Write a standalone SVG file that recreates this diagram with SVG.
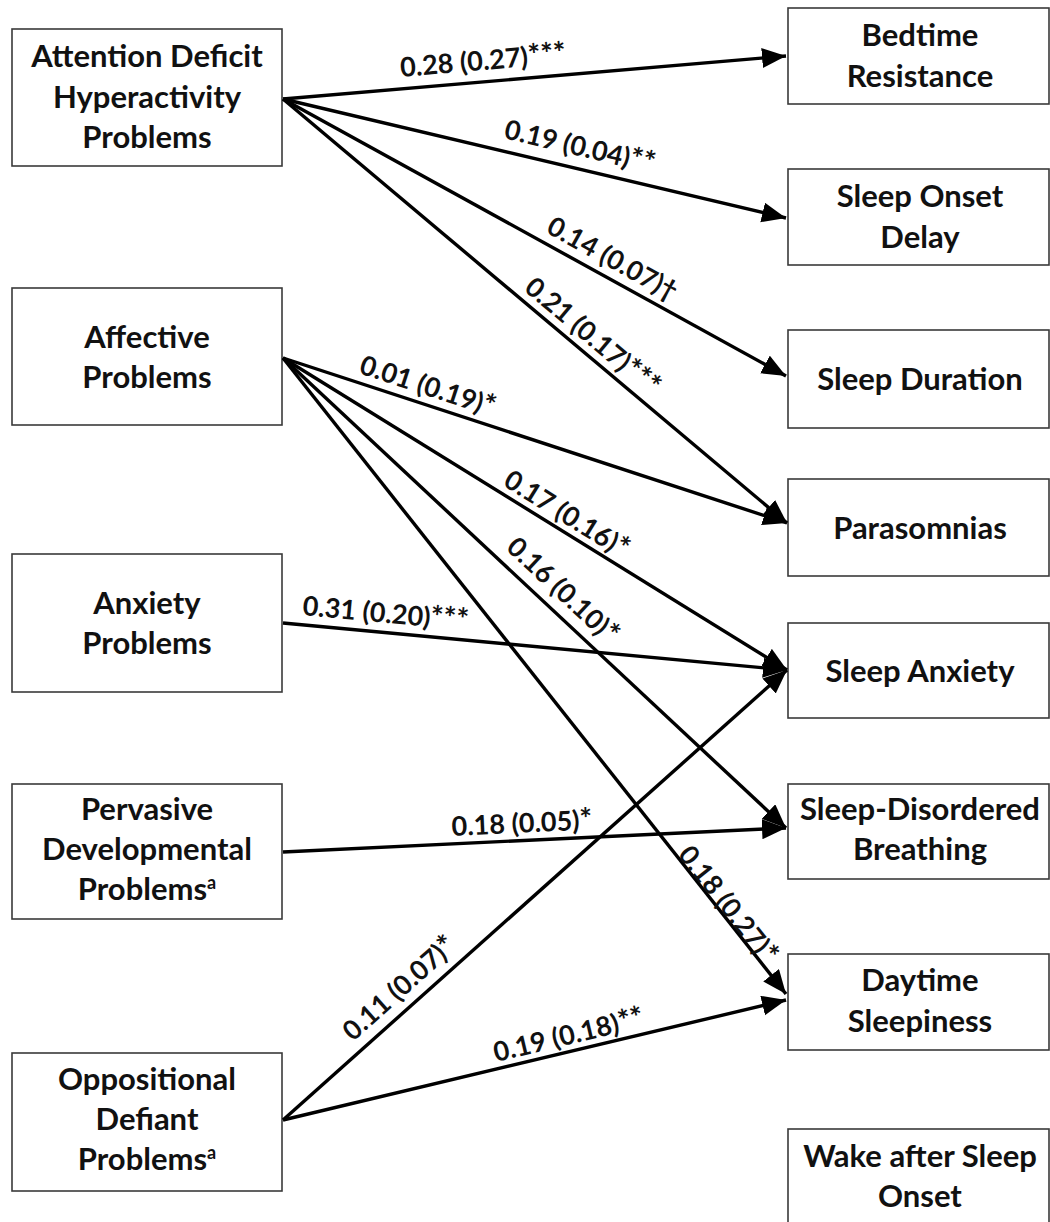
<svg xmlns="http://www.w3.org/2000/svg" width="1050" height="1222" viewBox="0 0 1050 1222">
<style>
.box{fill:#fff;stroke:#3a3a3a;stroke-width:1.6}
.nt{font-family:Lato,"Liberation Sans",sans-serif;font-weight:bold;font-size:31px;fill:#111;text-anchor:middle}
.sup{font-size:18px}
.edge{stroke:#000;stroke-width:3.4;fill:none}
.lbl{font-family:Lato,"Liberation Sans",sans-serif;font-weight:bold;font-size:27px;fill:#111}
.st{font-size:30px}
</style>
<defs>
<marker id="ah" markerUnits="userSpaceOnUse" markerWidth="26" markerHeight="22" refX="24" refY="10" orient="auto">
<path d="M0,0 L24,10 L0,20 Z" fill="#000"/>
</marker>
</defs>
<rect width="1050" height="1222" fill="#fff"/>

<g id="adhd"><rect class="box" x="12" y="29" width="270" height="137"/>
<text class="nt"><tspan x="147" y="67">Attention Deficit</tspan><tspan x="147" y="108">Hyperactivity</tspan><tspan x="147" y="148">Problems</tspan></text></g>
<g id="affective"><rect class="box" x="12" y="288" width="270" height="137"/>
<text class="nt"><tspan x="147" y="348">Affective</tspan><tspan x="147" y="388">Problems</tspan></text></g>
<g id="anxiety"><rect class="box" x="12" y="554" width="270" height="138"/>
<text class="nt"><tspan x="147" y="614">Anxiety</tspan><tspan x="147" y="654">Problems</tspan></text></g>
<g id="pervasive"><rect class="box" x="12" y="784" width="270" height="135"/>
<text class="nt"><tspan x="147" y="820">Pervasive</tspan><tspan x="147" y="860">Developmental</tspan><tspan x="147" y="900">Problems<tspan class="sup" dy="-11">a</tspan></tspan></text></g>
<g id="odd"><rect class="box" x="12" y="1053" width="270" height="138"/>
<text class="nt"><tspan x="147" y="1090">Oppositional</tspan><tspan x="147" y="1130">Defiant</tspan><tspan x="147" y="1170">Problems<tspan class="sup" dy="-11">a</tspan></tspan></text></g>

<g id="bedtime"><rect class="box" x="788" y="8" width="261" height="96"/>
<text class="nt"><tspan x="920" y="46">Bedtime</tspan><tspan x="920" y="87">Resistance</tspan></text></g>
<g id="onset"><rect class="box" x="788" y="169" width="261" height="96"/>
<text class="nt"><tspan x="920" y="207">Sleep Onset</tspan><tspan x="920" y="248">Delay</tspan></text></g>
<g id="duration"><rect class="box" x="788" y="330" width="261" height="98"/>
<text class="nt" x="920" y="390">Sleep Duration</text></g>
<g id="parasomnias"><rect class="box" x="788" y="479" width="261" height="97"/>
<text class="nt" x="920" y="539">Parasomnias</text></g>
<g id="sleepanxiety"><rect class="box" x="788" y="623" width="261" height="95"/>
<text class="nt" x="920" y="682">Sleep Anxiety</text></g>
<g id="sdb"><rect class="box" x="788" y="784" width="261" height="95"/>
<text class="nt"><tspan x="920" y="820">Sleep-Disordered</tspan><tspan x="920" y="860">Breathing</tspan></text></g>
<g id="daytime"><rect class="box" x="788" y="954" width="261" height="96"/>
<text class="nt"><tspan x="920" y="991">Daytime</tspan><tspan x="920" y="1032">Sleepiness</tspan></text></g>
<g id="waso"><rect class="box" x="788" y="1129" width="261" height="110"/>
<text class="nt"><tspan x="920" y="1167">Wake after Sleep</tspan><tspan x="920" y="1207">Onset</tspan></text></g>

<g id="connectors">
<line class="edge" marker-end="url(#ah)" x1="283" y1="99" x2="786" y2="56"/>
<line class="edge" marker-end="url(#ah)" x1="283" y1="99" x2="786" y2="218"/>
<line class="edge" marker-end="url(#ah)" x1="283" y1="99" x2="786" y2="376"/>
<line class="edge" marker-end="url(#ah)" x1="283" y1="99" x2="787" y2="523"/>
<line class="edge" marker-end="url(#ah)" x1="283" y1="358" x2="787" y2="523"/>
<line class="edge" marker-end="url(#ah)" x1="283" y1="358" x2="787" y2="670"/>
<line class="edge" marker-end="url(#ah)" x1="283" y1="358" x2="786" y2="828"/>
<line class="edge" marker-end="url(#ah)" x1="283" y1="358" x2="786" y2="994"/>
<line class="edge" marker-end="url(#ah)" x1="283" y1="623" x2="787" y2="670"/>
<line class="edge" marker-end="url(#ah)" x1="283" y1="852" x2="786" y2="828"/>
<line class="edge" marker-end="url(#ah)" x1="283" y1="1120" x2="787" y2="670"/>
<line class="edge" marker-end="url(#ah)" x1="283" y1="1120" x2="786" y2="1000"/>
<text class="lbl" transform="translate(401,77) rotate(-4.89)">0.28 (0.27)<tspan class="st">***</tspan></text>
<text class="lbl" transform="translate(503,138) rotate(13.31)">0.19 (0.04)<tspan class="st">**</tspan></text>
<text class="lbl" transform="translate(545,232) rotate(28.84)">0.14 (0.07)†</text>
<text class="lbl" transform="translate(523,290) rotate(40.07)">0.21 (0.17)<tspan class="st">***</tspan></text>
<text class="lbl" transform="translate(358,373) rotate(18.13)">0.01 (0.19)<tspan class="st">*</tspan></text>
<text class="lbl" transform="translate(502,485) rotate(31.76)">0.17 (0.16)<tspan class="st">*</tspan></text>
<text class="lbl" transform="translate(505,549) rotate(43.06)">0.16 (0.10)<tspan class="st">*</tspan></text>
<text class="lbl" transform="translate(302,615) rotate(5.33)">0.31 (0.20)<tspan class="st">***</tspan></text>
<text class="lbl" transform="translate(677,855) rotate(51.66)">0.18 (0.27)<tspan class="st">*</tspan></text>
<text class="lbl" transform="translate(452,836) rotate(-2.73)">0.18 (0.05)<tspan class="st">*</tspan></text>
<text class="lbl" transform="translate(353,1042) rotate(-41.76)">0.11 (0.07)<tspan class="st">*</tspan></text>
<text class="lbl" transform="translate(496,1062) rotate(-13.42)">0.19 (0.18)<tspan class="st">**</tspan></text>
</g>
</svg>
